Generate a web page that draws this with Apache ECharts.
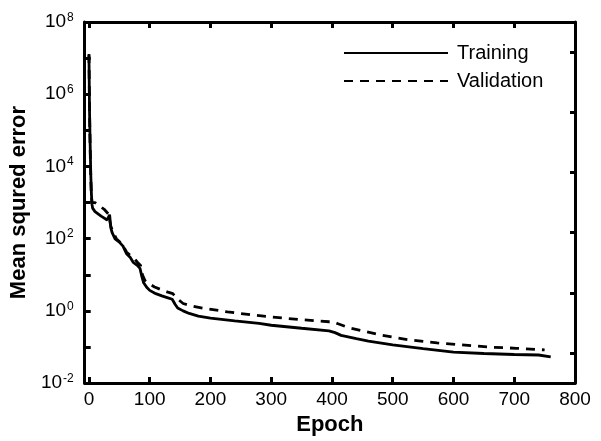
<!DOCTYPE html>
<html>
<head>
<meta charset="utf-8">
<script src="https://cdn.jsdelivr.net/npm/echarts@6/dist/echarts.min.js"></script>
<style>html,body{margin:0;padding:0;background:#fff}#c{width:601px;height:441px}</style>
</head>
<body>
<div id="c"></div>
<script>
// ---- data ----
const trainEpochs = [0, 1, 2, 3, 4, 5, 6, 10, 20, 30, 33, 34, 36, 38, 43, 50, 56, 62, 68, 73, 80, 84, 87, 90, 95, 100, 110, 120, 130, 137, 142, 146, 155, 165, 180, 200, 240, 280, 300, 350, 395, 405, 415, 440, 460, 500, 550, 600, 650, 700, 740, 760];
const trainMSE = [1.2e7, 3e5, 4e4, 6e3, 1.8e3, 900, 700, 560, 420, 330, 300, 460, 200, 150, 98, 80, 62, 38, 30, 22, 18, 15, 9, 6, 4.5, 3.7, 3.0, 2.6, 2.3, 2.1, 1.5, 1.2, 1.0, 0.85, 0.72, 0.63, 0.53, 0.45, 0.40, 0.33, 0.28, 0.25, 0.21, 0.17, 0.145, 0.115, 0.09, 0.072, 0.066, 0.062, 0.06, 0.053];
const validEpochs = [0, 1, 2, 3, 4, 5, 10, 18, 25, 32, 36, 40, 45, 55, 62, 70, 75, 80, 85, 88, 92, 100, 108, 120, 130, 138, 145, 155, 170, 190, 228, 272, 300, 350, 395, 402, 410, 428, 483, 524, 573, 614, 660, 704, 750];
const validMSE = [1.3e7, 3e5, 3e4, 5e3, 1.5e3, 1000, 1000, 800, 650, 480, 220, 150, 100, 70, 42, 32, 28, 22, 18, 10, 7, 5.5, 4.6, 3.8, 3.3, 3.0, 2.2, 1.6, 1.35, 1.17, 0.94, 0.76, 0.68, 0.57, 0.50, 0.50, 0.44, 0.34, 0.21, 0.16, 0.13, 0.114, 0.099, 0.092, 0.083];
const seriesNames = ['Training', 'Validation'];
const yLabelExponents = [-2, 0, 2, 4, 6, 8];
const xTickLabels = ['0', '100', '200', '300', '400', '500', '600', '700', '800'];

const FONT = 'Liberation Sans, Arial, Helvetica, sans-serif';
const pair = (xs, ys) => xs.map((x, i) => [x, ys[i]]);

const chart = echarts.init(document.getElementById('c'), null, {renderer: 'canvas'});
const axisLine = {show: true, onZero: false, lineStyle: {color: '#000', width: 3}};
const xBase = {
  type: 'value', min: -7, max: 800, splitNumber: 8, minInterval: 100, maxInterval: 100,
  axisLine: axisLine, splitLine: {show: false}
};
chart.setOption({
  animation: false,
  backgroundColor: '#fff',
  grid: {left: 83, right: 26, top: 22, bottom: 56, containLabel: false},
  legend: {
    orient: 'vertical', left: 338, top: 38, itemWidth: 104, itemHeight: 14, itemGap: 8,
    data: seriesNames,
    itemStyle: {opacity: 0},
    textStyle: {fontFamily: FONT, fontSize: 20, color: '#000', padding: [0, 0, 0, 4]}
  },
  xAxis: [
    Object.assign({}, xBase, {
      position: 'bottom',
      name: 'Epoch', nameLocation: 'middle', nameGap: 26,
      nameTextStyle: {fontFamily: FONT, fontSize: 22, fontWeight: 'bold', color: '#000'},
      axisTick: {show: true, inside: true, length: 6, lineStyle: {color: '#000', width: 3}},
      axisLabel: {
        show: true, margin: 7, fontFamily: FONT, fontSize: 19, color: '#000',
        formatter: v => { const s = String(Math.round(v)); return xTickLabels.indexOf(s) >= 0 && v >= 0 ? s : ''; }
      }
    }),
    Object.assign({}, xBase, {
      position: 'top',
      axisTick: {show: true, inside: true, length: 6, lineStyle: {color: '#000', width: 3}},
      axisLabel: {show: false}
    })
  ],
  yAxis: [
    {
      type: 'log', logBase: 10, min: 0.01, max: 1e8, interval: 1, position: 'left',
      axisLine: axisLine, splitLine: {show: false}, minorTick: {show: false},
      axisTick: {show: true, inside: true, length: 6, lineStyle: {color: '#000', width: 3}},
      name: 'Mean squred error', nameLocation: 'middle', nameGap: 43,
      nameTextStyle: {fontFamily: FONT, fontSize: 22, fontWeight: 'bold', color: '#000'},
      axisLabel: {
        show: true, margin: 11, fontFamily: FONT, color: '#000',
        formatter: v => {
          const e = Math.round(Math.log10(v));
          return yLabelExponents.indexOf(e) >= 0 ? '{b|10}{s|' + e + '}' : '';
        },
        rich: {
          b: {fontFamily: FONT, fontSize: 19, color: '#000'},
          s: {fontFamily: FONT, fontSize: 12, color: '#000', padding: [0, 0, 9, 1]}
        }
      }
    },
    {
      type: 'value', min: -0.5, max: 5.5, splitNumber: 6, minInterval: 1, maxInterval: 1, position: 'right',
      axisLine: axisLine, splitLine: {show: false},
      axisTick: {show: true, inside: true, length: 5, lineStyle: {color: '#000', width: 3}},
      axisLabel: {show: false}
    }
  ],
  series: [
    {
      name: seriesNames[0], type: 'line', xAxisIndex: 0, yAxisIndex: 0,
      data: pair(trainEpochs, trainMSE), showSymbol: false, symbol: 'none',
      lineStyle: {color: '#000', width: 2.8}, itemStyle: {color: '#000'}
    },
    {
      name: seriesNames[1], type: 'line', xAxisIndex: 0, yAxisIndex: 0,
      data: pair(validEpochs, validMSE), showSymbol: false, symbol: 'none',
      lineStyle: {color: '#000', width: 2.8, type: [9, 7]}, itemStyle: {color: '#000'}
    }
  ]
});
</script>
</body>
</html>
